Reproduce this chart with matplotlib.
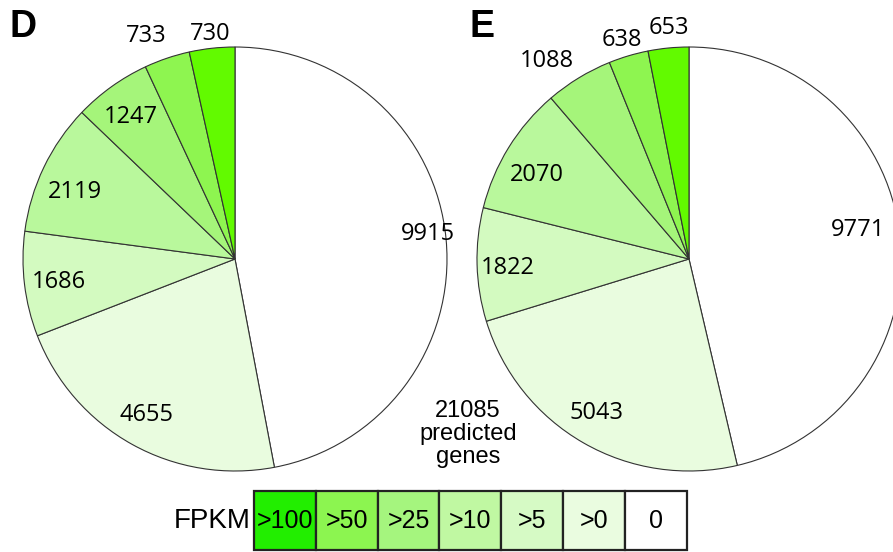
import numpy as np
import matplotlib.pyplot as plt
from matplotlib.patches import Rectangle

# FPKM classes, drawn clockwise from 12 o'clock
classes = ["0", ">0", ">5", ">10", ">25", ">50", ">100"]
counts_d = [9915, 4655, 1686, 2119, 1247, 733, 730]
counts_e = [9771, 5043, 1822, 2070, 1088, 638, 653]
total_genes = 21085

pie_colors = ["#FFFFFF", "#E9FCDF", "#D3FAC0", "#B9F89C", "#A5F57A", "#8EF550", "#62FA00"]
legend_order = [">100", ">50", ">25", ">10", ">5", ">0", "0"]
legend_colors = ["#22EE00", "#8CF550", "#A5F57E", "#C0F8A2", "#D6FAC5", "#EAFCE0", "#FFFFFF"]

W, H = 893, 552
fig = plt.figure(figsize=(W / 100, H / 100), dpi=100)
ax = fig.add_axes([0, 0, 1, 1])
ax.set_xlim(0, W)
ax.set_ylim(0, H)
ax.set_aspect("equal")
ax.axis("off")

num_font = dict(family=["Open Sans", "DejaVu Sans"], fontsize=17, color="black")


def draw_pie(center, radius, counts, dists, angle_shift):
    wedges, _ = ax.pie(counts, colors=pie_colors, startangle=90, counterclock=False,
                       center=center, radius=radius, frame=True,
                       wedgeprops=dict(edgecolor="#333333", linewidth=0.8))
    for w, c, d, s in zip(wedges, counts, dists, angle_shift):
        mid = np.deg2rad((w.theta1 + w.theta2) / 2 + s)
        x = center[0] + d * radius * np.cos(mid)
        y = center[1] + d * radius * np.sin(mid)
        ax.text(x, y, str(c), ha="center", va="center", **num_font)


cy = H - 259
draw_pie((235, cy), 212, counts_d,
         [0.92, 0.845, 0.84, 0.82, 0.83, 1.13, 1.07],
         [2, -0.4, 0.5, 3, 0.8, 3, 0])
draw_pie((689, cy), 212, counts_e,
         [0.81, 0.846, 0.855, 0.82, 1.15, 1.08, 1.094],
         [3, -1, 1.3, 2.8, 4.2, 0.4, -0.7])
ax.set_xlim(0, W)
ax.set_ylim(0, H)
ax.axis("off")

# panel letters
ax.text(10, H - 27, "D", fontsize=27, fontweight="bold", family="Liberation Sans",
        ha="left", va="center")
ax.text(470, H - 27, "E", fontsize=27, fontweight="bold", family="Liberation Sans",
        ha="left", va="center")

# gene total caption
ax.text(468, H - 434, f"{total_genes}\npredicted\ngenes", ha="center", va="center",
        fontsize=17, family="Liberation Sans", linespacing=1.08)

# FPKM colour key
x0, box_w, y_bot, box_h = 254, 61.8, H - 550, 59
ax.text(x0 - 3, y_bot + box_h / 2, "FPKM", ha="right", va="center",
        fontsize=20, family="Liberation Sans")
for i, (lab, col) in enumerate(zip(legend_order, legend_colors)):
    ax.add_patch(Rectangle((x0 + i * box_w, y_bot), box_w, box_h, facecolor=col,
                           edgecolor="#222222", linewidth=1.6))
    ax.text(x0 + (i + 0.5) * box_w, y_bot + box_h / 2, lab, ha="center", va="center",
            fontsize=18, family="Liberation Sans")

fig.savefig("out.png", dpi=100)
